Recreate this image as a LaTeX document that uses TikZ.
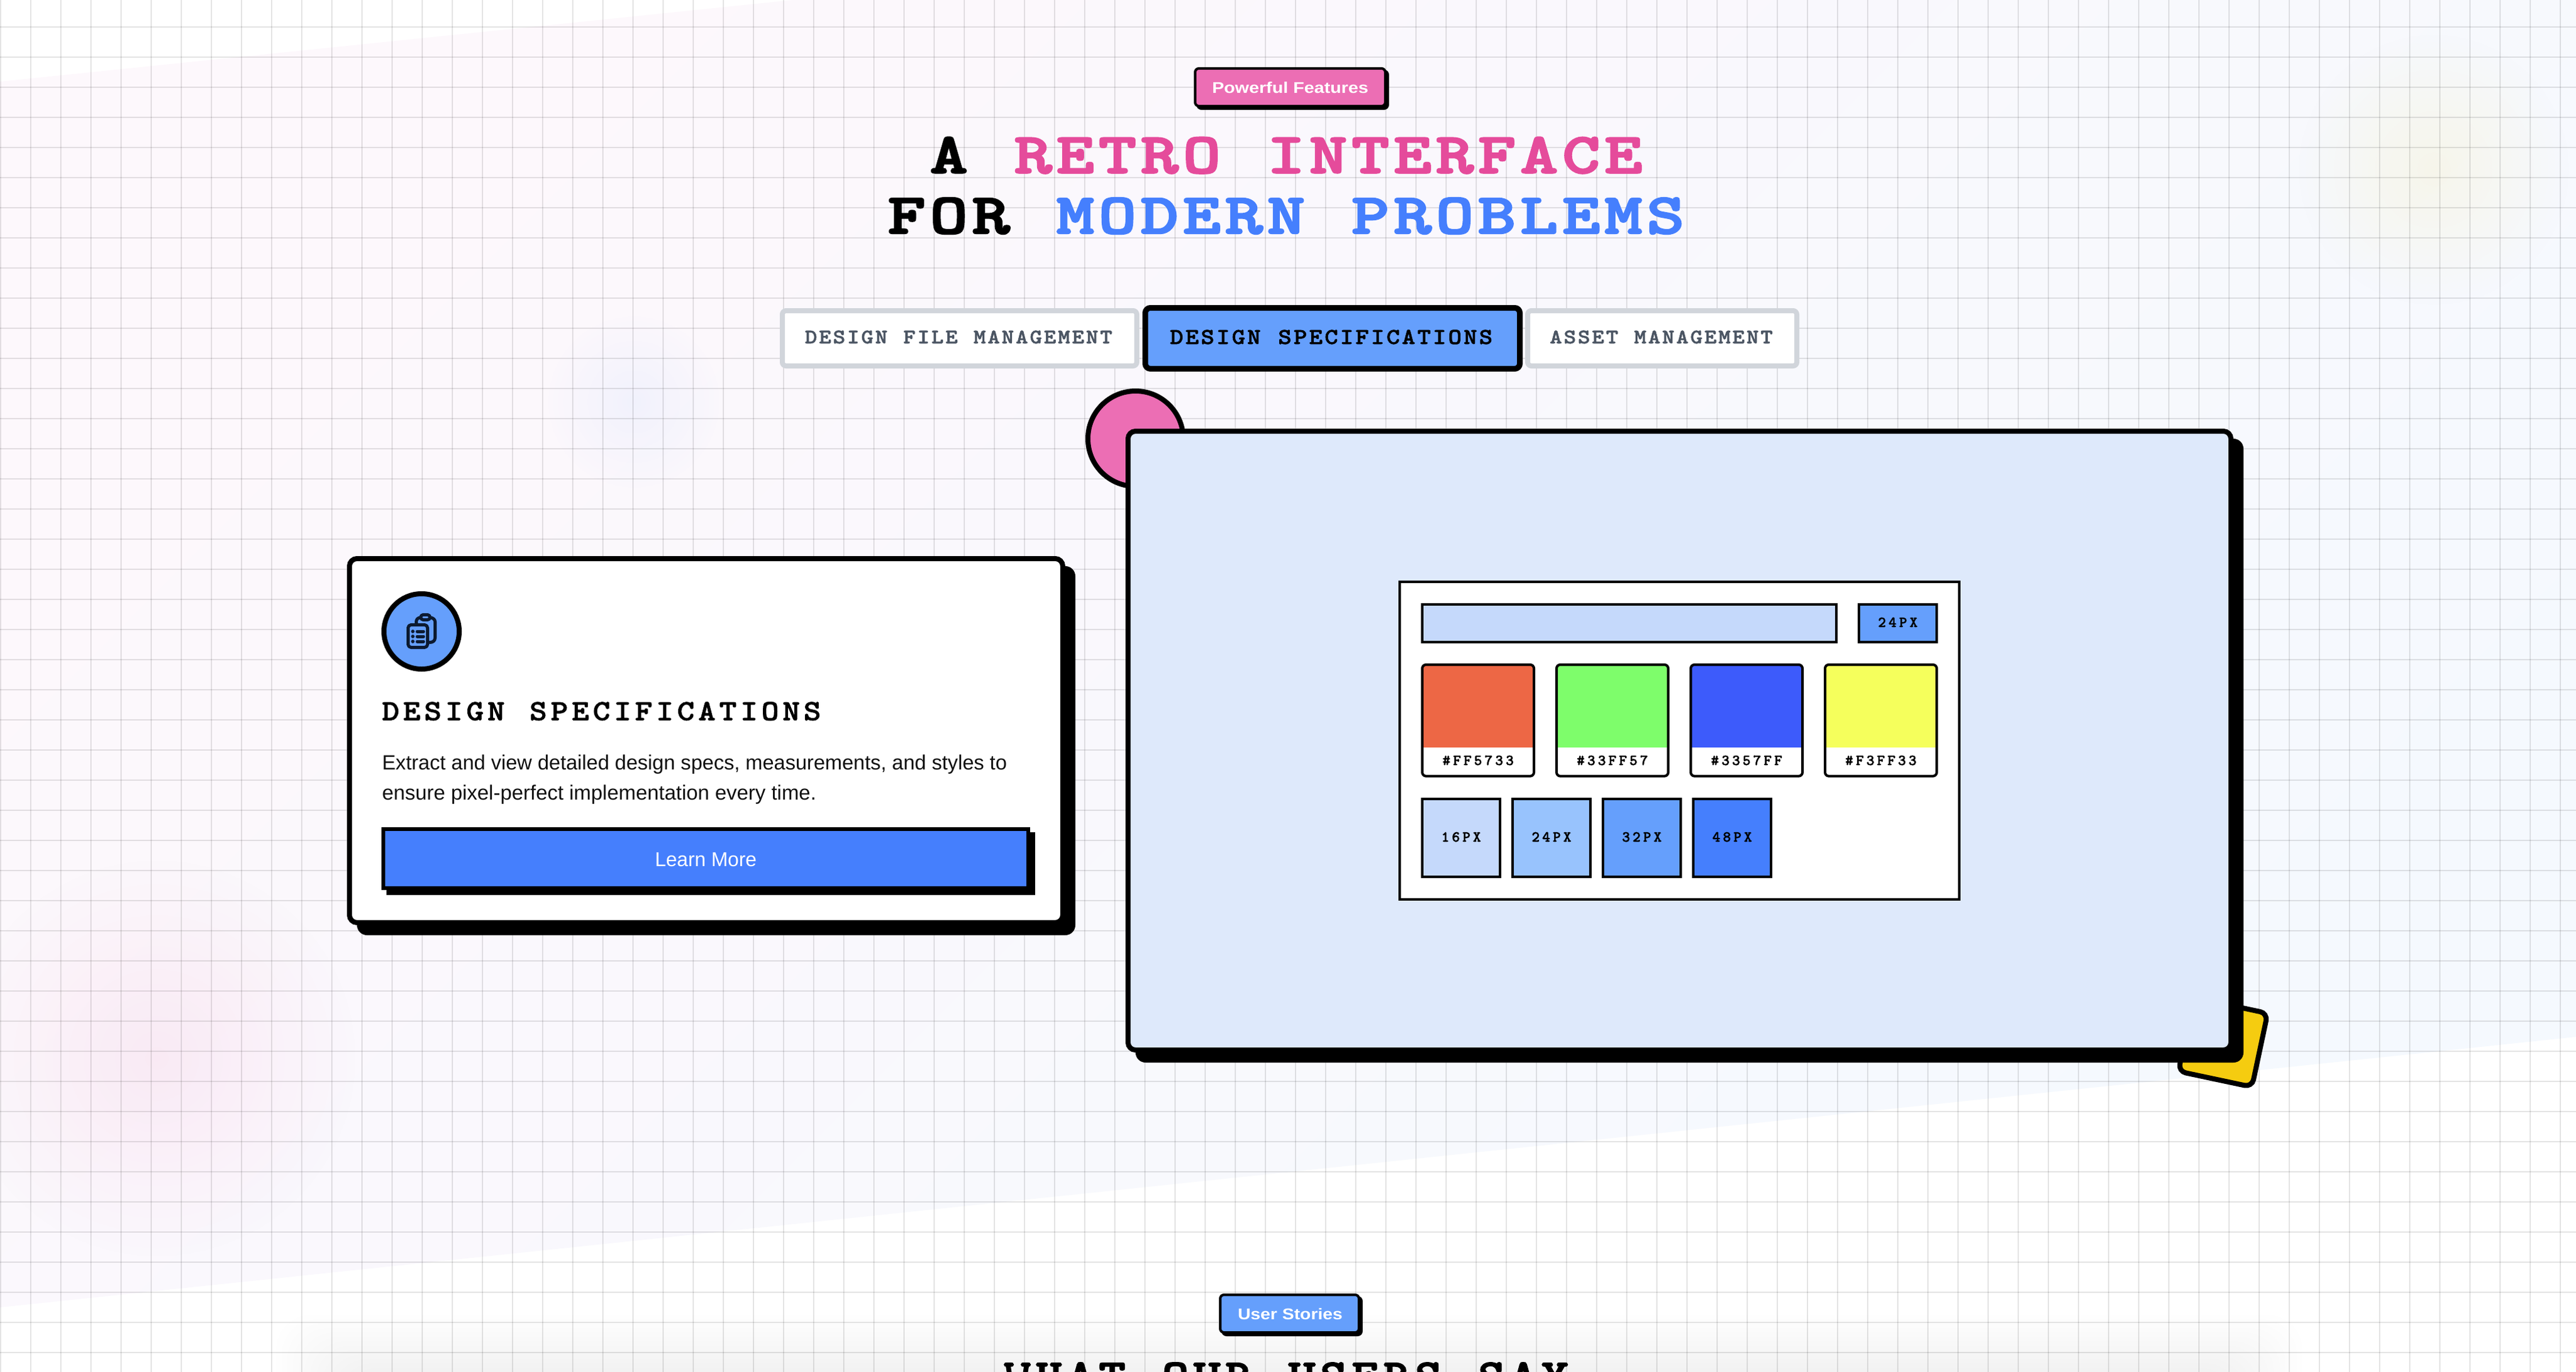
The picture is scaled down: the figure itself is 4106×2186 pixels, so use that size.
\documentclass[tikz,border=0pt]{standalone}
\usepackage{fontspec}
\usepackage{graphicx}
\setmainfont{Liberation Sans}
\newfontface\crfam[FakeBold=1.6]{lmmonolt10-bold.otf}
\newfontface\crfamH[FakeBold=2.6]{lmmonolt10-bold.otf}
\usetikzlibrary{fadings}
\definecolor{pinkT}{HTML}{E54B9B}
\definecolor{blueT}{HTML}{457FFD}
\definecolor{pinkF}{HTML}{EC6EB4}
\definecolor{blueF}{HTML}{659FFC}
\definecolor{blueL}{HTML}{C5D9FB}
\definecolor{blueM}{HTML}{98C3FD}
\definecolor{panelF}{HTML}{DEE9FB}
\definecolor{yellowF}{HTML}{F5CC10}
\definecolor{tabB}{HTML}{D1D5DB}
\definecolor{tabT}{HTML}{4B5563}
\definecolor{iconC}{HTML}{0C1A30}
\definecolor{bodyT}{HTML}{111111}
\definecolor{bgA}{HTML}{FDF8FC}
\definecolor{bgM}{HTML}{F9F8FD}
\definecolor{bgB}{HTML}{F5F9FE}
\definecolor{swA}{HTML}{ED6745}
\definecolor{swB}{HTML}{7EFD6B}
\definecolor{swC}{HTML}{3D5BFB}
\definecolor{swD}{HTML}{F5FF5C}
\tikzfading[name=blob, inner color=transparent!0, outer color=transparent!100]
\makeatletter
\newcommand\monotxt[3]{\@tfor\my@ch:=#3\do{\makebox[#1][c]{\scalebox{#2}[1]{\my@ch}}}}
\newcommand\monoB[3]{\monotxt{#2}{#3}{#1}}
\newcommand\monoE[3]{\expandafter\monoB\expandafter{#3}{#1}{#2}}
\makeatother
\newcommand\fitw[2]{\resizebox{#1}{\height}{#2}}
\newcommand\crf[1]{\fontsize{#1}{#1}\crfam\selectfont}
\newcommand\crfH[1]{\fontsize{#1}{#1}\crfamH\selectfont}
\newcommand\txf[1]{\fontsize{#1}{#1}\selectfont}
\tikzset{
  txt/.style={inner sep=0pt,outer sep=0pt,anchor=base},
  txtw/.style={inner sep=0pt,outer sep=0pt,anchor=base west},
  gridl/.style={draw=black,draw opacity=0.105,line width=0.5pt},
  bd/.style={draw=black,line width=1pt},
  thick2/.style={draw=black,line width=2pt},
  icon/.style={draw=iconC,line width=1.25pt,line cap=round,line join=round}
}
\begin{document}
\begin{tikzpicture}[x=0.25pt,y=-0.25pt]
\useasboundingbox (0,0) rectangle (4106,2186);
\clip (0,0) rectangle (4106,2186);
\fill[white] (0,0) rectangle (4106,2186);
% skewed band
\shade[top color=bgA,middle color=bgM,bottom color=bgB,shading angle=45]
  (0,130) -- (1264,0) -- (4106,0) -- (4106,1652) -- (0,2083) -- cycle;
% blurred blobs
\fill[pinkF,fill opacity=0.10,path fading=blob] (250,1686) circle (320);
\fill[yellowF,fill opacity=0.08,path fading=blob] (3879,270) circle (220);
\fill[blueF,fill opacity=0.07,path fading=blob] (1010,640) circle (140);
% soft shadow at the bottom
\foreach \i in {0,...,13}
  \fill[black,fill opacity=0.0052,rounded corners=14pt]
    ({440+\i*9},{2095+\i*7}) rectangle ({3670-\i*9},2300);
% grid
\foreach \x in {1,49,...,4106} \draw[gridl] (\x,0) -- (\x,2186);
\foreach \y in {43,91,...,2186} \draw[gridl] (0,\y) -- (4106,\y);

% badge
\fill[black,rounded corners=2pt] (1907,111) rectangle (2214,175);
\draw[bd,fill=pinkF,rounded corners=1.5pt] (1905,109) rectangle (2208,169);
\node[txt,white] (badgeA) at (2056.5,148.5) {\fitw{62.25pt}{\txf{6.2pt}\bfseries Powerful Features}};

% title
\node[txt] (titleA) at (2050,275.6) {\crfH{22.9pt}\monotxt{16.8pt}{1.25}{A~}\textcolor{pinkT}{\monotxt{16.8pt}{1.25}{RETRO~INTERFACE}}};
\node[txt] (titleB) at (2050,372) {\crfH{22.9pt}\monotxt{16.8pt}{1.25}{FOR~}\textcolor{blueT}{\monotxt{16.8pt}{1.25}{MODERN~PROBLEMS}}};

% tabs
\draw[draw=tabB,line width=2pt,fill=white,rounded corners=1.5pt] (1247,495) rectangle (1812,583);
\node[txt,text=tabT] (tabA) at (1528,547) {\crf{8.2pt}\monotxt{5.6pt}{1.13}{DESIGN~FILE~MANAGEMENT}};
\draw[draw=tabB,line width=2pt,fill=white,rounded corners=1.5pt] (2435,495) rectangle (2864,583);
\node[txt,text=tabT] (tabC) at (2648,547) {\crf{8.2pt}\monotxt{5.6pt}{1.13}{ASSET~MANAGEMENT}};
\draw[draw=black,line width=2.25pt,fill=blueF,rounded corners=2pt] (1825.5,490.5) rectangle (2422.5,587.5);
\node[txt,text=black] (tabB) at (2122,548) {\crf{9pt}\monotxt{6.16pt}{1.13}{DESIGN~SPECIFICATIONS}};

% left card
\fill[black,rounded corners=4pt] (569,902) rectangle (1714,1490);
\draw[thick2,fill=white,rounded corners=3pt] (557,890) rectangle (1694,1470);
\draw[thick2,fill=blueF] (672,1006) circle (60);
% clipboard icon
\draw[icon,rounded corners=1.2pt] (650.5,995.5) rectangle (681.5,1031.5);
\draw[icon] (663.5,994) -- (663.5,991) .. controls (663.5,986.5) and (666,984.5) .. (670,984);
\draw[icon] (686,984) .. controls (690.5,984.5) and (693.5,987) .. (693.5,991) -- (693.5,1016) .. controls (693.5,1021) and (690,1023.5) .. (685,1023.5);
\draw[icon,rounded corners=1pt] (670.5,979.5) rectangle (685.5,987.5);
\foreach \y in {1006,1014,1022} {
  \fill[iconC] (658,\y) circle (2.8);
  \draw[icon] (665,\y) -- (675,\y);
}
\node[txtw] (cardH) at (606,1147.5) {\crf{11.65pt}\monotxt{8.4pt}{1.13}{DESIGN~SPECIFICATIONS}};
\node[txtw,text=bodyT] (cardA) at (609,1226) {\fitw{249pt}{\txf{8.2pt}Extract and view detailed design specs, measurements, and styles to}};
\node[txtw,text=bodyT] (cardB) at (609,1274) {\fitw{173pt}{\txf{8.2pt}ensure pixel-perfect implementation every time.}};
\fill[black] (616,1326) rectangle (1650,1426);
\draw[draw=black,line width=1.5pt,fill=blueT] (611,1321) rectangle (1639,1415);
\node[txt,white] (learn) at (1125,1380) {\fitw{40.5pt}{\txf{8pt}Learn More}};

% decorations behind panel
\draw[thick2,fill=pinkF] (1810,699) circle (76);
\begin{scope}[shift={(3543.3,1660.7)},rotate=-12]
  \draw[thick2,fill=yellowF,rounded corners=3pt] (-60,-60) rectangle (60,60);
\end{scope}
% panel
\fill[black,rounded corners=4pt] (1810,699) rectangle (3576,1693);
\draw[thick2,fill=panelF,rounded corners=3pt] (1798,687) rectangle (3556,1673);

% mock window
\draw[bd,fill=white] (2231,927) rectangle (3123,1433);
\draw[bd,fill=blueL] (2267,963) rectangle (2927,1023);
\draw[bd,fill=blueF] (2963,963) rectangle (3087,1023);
\node[txt] (lblTop) at (3025,999) {\crf{6.1pt}\monotxt{4.2pt}{1.0}{24PX}};

% swatches
\foreach \xa/\col/\lab/\nm in {2265/swA/\#FF5733/a,2479/swB/\#33FF57/b,2693/swC/\#3357FF/c,2907/swD/\#F3FF33/d} {
  \begin{scope}
    \clip[rounded corners=1.5pt] (\xa+2,1059) rectangle (\xa+180,1236.6);
    \fill[\col] (\xa,1055) rectangle (\xa+182,1191);
  \end{scope}
  \draw[bd,rounded corners=1.5pt] (\xa+2,1059) rectangle (\xa+180,1236.6);
  \node[txt] (sw\nm) at (\xa+91,1219) {\crf{6.1pt}\monoE{4.2pt}{1.0}{\lab}};
}

% size boxes
\foreach \xa/\col/\lab/\nm in {2265/blueL/16PX/a,2409/blueM/24PX/b,2553/blueF/32PX/c,2697/blueT/48PX/d} {
  \draw[bd,fill=\col] (\xa+2,1273) rectangle (\xa+126,1397);
  \node[txt] (sz\nm) at (\xa+64,1341) {\crf{6.1pt}\monoE{4.2pt}{1.0}{\lab}};
}

% bottom section
\fill[black,rounded corners=2pt] (1947,2065) rectangle (2172,2129);
\draw[bd,fill=blueF,rounded corners=1.5pt] (1945,2063) rectangle (2166,2123);
\node[txt,white] (badgeB) at (2056.5,2102.6) {\fitw{41.75pt}{\txf{6.2pt}\bfseries User Stories}};
\node[txt] (titleC) at (2050,2213) {\crfH{16.9pt}\monotxt{12.6pt}{1.2}{WHAT~OUR~USERS~SAY}};
\end{tikzpicture}
\end{document}
